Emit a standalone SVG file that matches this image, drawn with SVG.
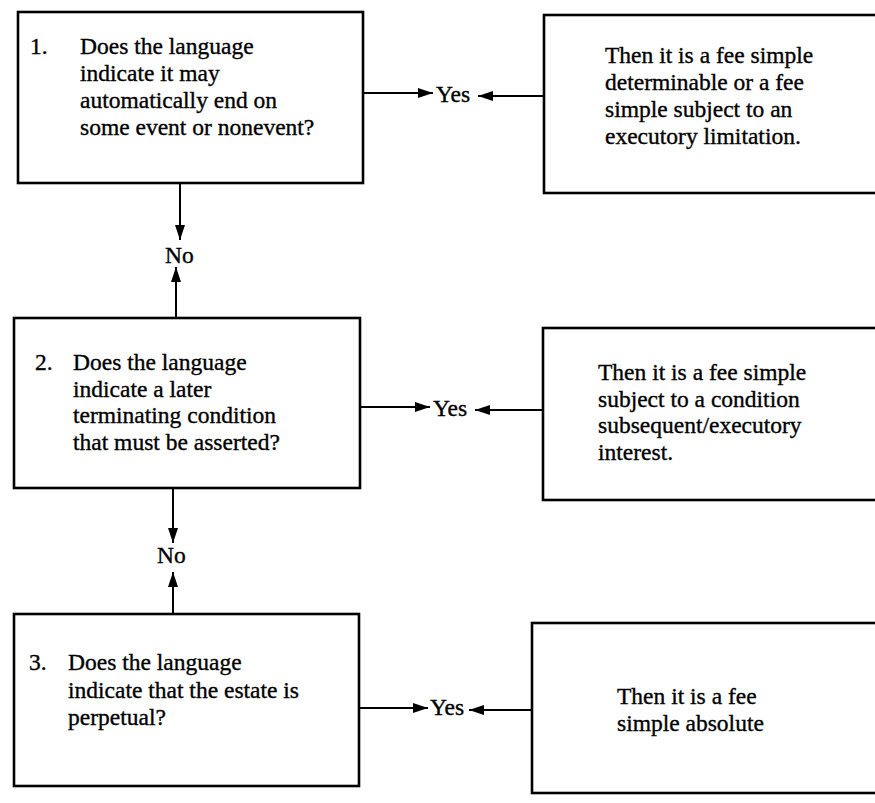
<svg xmlns="http://www.w3.org/2000/svg" width="875" height="803" viewBox="0 0 875 803">
<style>
.box{fill:none;stroke:#000;stroke-width:2.6}
.ln{stroke:#000;stroke-width:2;fill:none}
text{font-family:"Liberation Serif","Times New Roman",serif;font-size:23.5px;fill:#000;stroke:#000;stroke-width:0.35}
</style>
<defs>
<marker id="ah" viewBox="0 0 15 10" refX="15" refY="5" markerWidth="15" markerHeight="10" markerUnits="userSpaceOnUse" orient="auto">
<path d="M0,0 L15,5 L0,10 Z" fill="#000"/>
</marker>
</defs>
<rect width="875" height="803" fill="#fff"/>
<g id="q1">
<rect class="box" x="18" y="12" width="345" height="171"/>
<text x="30" y="54">1.</text>
<text x="80" y="54">Does the language</text>
<text x="80" y="81">indicate it may</text>
<text x="80" y="108">automatically end on</text>
<text x="80" y="135">some event or nonevent?</text>
</g>
<g id="r1">
<rect class="box" x="544" y="15" width="340" height="178"/>
<text x="605" y="63">Then it is a fee simple</text>
<text x="605" y="90">determinable or a fee</text>
<text x="605" y="117">simple subject to an</text>
<text x="605" y="144">executory limitation.</text>
</g>
<g id="q2">
<rect class="box" x="14" y="318" width="346" height="170"/>
<text x="35" y="370">2.</text>
<text x="73" y="370">Does the language</text>
<text x="73" y="397">indicate a later</text>
<text x="73" y="423">terminating condition</text>
<text x="73" y="450">that must be asserted?</text>
</g>
<g id="r2">
<rect class="box" x="543" y="328" width="340" height="172"/>
<text x="598" y="380">Then it is a fee simple</text>
<text x="598" y="407">subject to a condition</text>
<text x="598" y="433">subsequent/executory</text>
<text x="598" y="460">interest.</text>
</g>
<g id="q3">
<rect class="box" x="14" y="614" width="345" height="172"/>
<text x="29" y="670">3.</text>
<text x="68" y="670">Does the language</text>
<text x="68" y="698">indicate that the estate is</text>
<text x="68" y="725">perpetual?</text>
</g>
<g id="r3">
<rect class="box" x="532" y="623" width="350" height="170"/>
<text x="617" y="704">Then it is a fee</text>
<text x="617" y="731">simple absolute</text>
</g>
<g id="labels">
<text x="436" y="102">Yes</text>
<text x="433" y="416">Yes</text>
<text x="430" y="715">Yes</text>
<text x="165" y="263">No</text>
<text x="157" y="563">No</text>
</g>
<g id="connectors">
<line class="ln" x1="363" y1="93" x2="433" y2="93" marker-end="url(#ah)"/>
<line class="ln" x1="544" y1="96" x2="478" y2="96" marker-end="url(#ah)"/>
<line class="ln" x1="360" y1="407" x2="430" y2="407" marker-end="url(#ah)"/>
<line class="ln" x1="543" y1="410" x2="475" y2="410" marker-end="url(#ah)"/>
<line class="ln" x1="359" y1="708" x2="428" y2="708" marker-end="url(#ah)"/>
<line class="ln" x1="532" y1="710" x2="469" y2="710" marker-end="url(#ah)"/>
<line class="ln" x1="180" y1="183" x2="180" y2="240" marker-end="url(#ah)"/>
<line class="ln" x1="176" y1="318" x2="176" y2="267" marker-end="url(#ah)"/>
<line class="ln" x1="173" y1="488" x2="173" y2="543" marker-end="url(#ah)"/>
<line class="ln" x1="173" y1="614" x2="173" y2="572" marker-end="url(#ah)"/>
</g>
</svg>
